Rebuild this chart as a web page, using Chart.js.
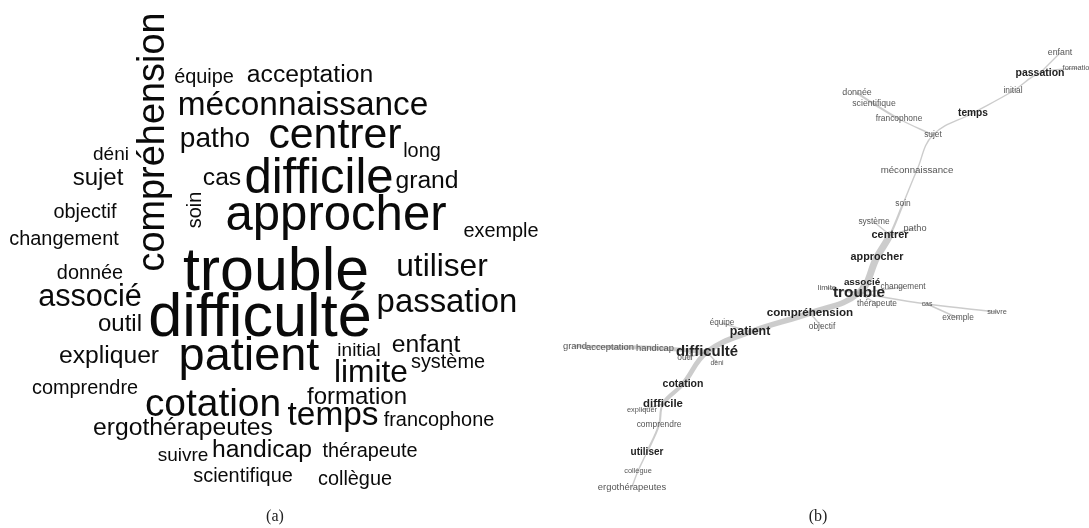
<!DOCTYPE html>
<html lang="fr">
<head>
<meta charset="utf-8">
<script src="https://cdn.jsdelivr.net/npm/chart.js@4.4.1/dist/chart.umd.min.js"></script>
<style>
  html, body { margin: 0; padding: 0; background: #fff; }
</style>
</head>
<body>
<canvas id="graphe" width="1089" height="528"></canvas>
<script>
// (a) nuage de mots : mot, fréquence, position dans le repère du nuage
const motsNuage = [
  "compréhension", "équipe", "acceptation", "méconnaissance", "patho", "centrer", "long",
  "déni", "sujet", "cas", "difficile", "grand", "soin", "objectif", "approcher", "exemple",
  "changement", "trouble", "utiliser", "donnée", "associé", "passation", "outil", "difficulté",
  "expliquer", "patient", "initial", "enfant", "système", "limite", "comprendre", "formation",
  "cotation", "temps", "francophone", "ergothérapeutes", "suivre", "handicap", "thérapeute",
  "scientifique", "collègue"
]
const freqNuage = [
  40, 11, 17, 31, 22, 51, 11,
  10, 16, 17, 67, 17, 11, 11, 67, 11,
  11, 103, 28, 11, 26, 30, 16, 104,
  17, 61, 10, 17, 11, 28, 11, 16,
  42, 31, 11, 17, 10, 17, 11,
  11, 11
]
const xNuage = [
  164, 204, 310, 303, 215, 335, 422,
  111, 98, 222, 319, 427, 201, 85, 336, 501,
  64, 276, 442, 90, 90, 447, 120, 260,
  109, 249, 359, 426, 448, 371, 85, 357,
  213, 333, 439, 183, 183, 262, 370,
  243, 355
]
const yNuage = [
  142, 83, 82, 115, 147, 148, 157,
  160, 185, 185, 193, 188, 210, 218, 230, 237,
  245, 290, 276, 279, 306, 312, 331, 336,
  363, 370, 356, 352, 368, 382, 394, 404,
  416, 425, 426, 435, 461, 457, 457,
  482, 485
]
const motsVerticaux = ["compréhension", "soin"]

// (b) graphe de similitude : noeuds et chemins d'arêtes
const noeuds = [
  "enfant", "passation", "formation", "initial", "temps", "donnée", "scientifique",
  "francophone", "sujet", "méconnaissance", "soin", "système", "patho", "centrer",
  "approcher", "associé", "limite", "trouble", "changement", "thérapeute", "cas", "exemple",
  "suivre", "compréhension", "objectif", "patient", "équipe", "difficulté", "handicap",
  "acceptation", "grand", "outil", "déni", "cotation", "difficile", "expliquer",
  "comprendre", "utiliser", "collègue", "ergothérapeutes"
]
const xNoeuds = [
  1060, 1040, 1078, 1013, 973, 857, 874,
  899, 933, 917, 903, 874, 915, 890,
  877, 862, 827, 859, 903, 877, 927, 958,
  997, 810, 822, 750, 722, 707, 655,
  610, 575, 685, 717, 683, 663, 642,
  659, 647, 638, 632
]
const yNoeuds = [
  53, 73, 68, 91, 113, 93, 104,
  119, 135, 170, 204, 222, 228, 235,
  257, 282, 288, 293, 287, 304, 304, 318,
  312, 313, 327, 332, 323, 352, 348,
  347, 346, 358, 363, 384, 404, 410,
  425, 452, 471, 487
]
const poidsNoeuds = [
  2.7, 4.6, 1.1, 2.2, 4.2, 2.8, 2.6,
  2.2, 2.2, 3.7, 2.2, 2.2, 3.1, 5.0,
  4.9, 3.9, 1.7, 10, 2.0, 2.2, 0.5, 2.2,
  1.1, 5.8, 2.2, 6.7, 2.0, 9.4, 3.3,
  3.3, 3.3, 2.2, 0.5, 4.6, 5.6, 1.1,
  2.2, 4.0, 1.1, 3.3
]
const chemins = [
  ["formation", "passation", "initial", "temps", "sujet", "méconnaissance", "soin", "centrer",
   "approcher", "trouble", "compréhension", "patient", "difficulté", "cotation", "difficile",
   "comprendre", "utiliser", "collègue", "ergothérapeutes"],
  ["enfant", "passation"],
  ["donnée", "scientifique", "francophone", "sujet"],
  ["système", "centrer"],
  ["patho", "centrer"],
  ["limite", "trouble"],
  ["associé", "trouble"],
  ["changement", "trouble"],
  ["trouble", "thérapeute"],
  ["trouble", "cas", "suivre"],
  ["cas", "exemple"],
  ["compréhension", "objectif"],
  ["patient", "équipe"],
  ["difficulté", "handicap", "acceptation", "grand"],
  ["difficulté", "outil"],
  ["difficulté", "déni"],
  ["difficile", "expliquer"]
]
const poidsChemins = [
  [2, 2, 2, 2, 2, 2, 3, 10, 10, 8, 8, 8, 7, 6, 3, 3, 2, 2],
  [2],
  [3, 3, 2],
  [2],
  [2],
  [3],
  [2],
  [2],
  [2],
  [2, 2],
  [2],
  [2],
  [2],
  [6, 6, 4],
  [2],
  [2],
  [2]
]

const legendes = ["(a)", "(b)"]
const xLegendes = [275, 818]

const taillePolice = f => 6 * Math.sqrt(f)
const tailleNoeud = w => 6.4 + w * 0.9
const point = nom => {
  const i = noeuds.indexOf(nom)
  return { x: xNoeuds[i], y: yNoeuds[i] }
}

const datasetNuage = {
  data: motsNuage.map((m, i) => ({ x: xNuage[i], y: yNuage[i] })),
  pointRadius: 0,
  textes: motsNuage.map((m, i) => ({
    txt: m,
    font: `${taillePolice(freqNuage[i]).toFixed(1)}px "Liberation Sans", Arial, sans-serif`,
    color: "#0a0a0a",
    rot: motsVerticaux.includes(m),
    base: "alphabetic"
  }))
}

const datasetsLiens = chemins.map((ch, k) => ({
  data: ch.map(point),
  showLine: true,
  tension: 0.4,
  pointRadius: 0,
  borderColor: "rgba(170,170,170,0.6)",
  borderCapStyle: "round",
  borderJoinStyle: "round",
  segment: { borderWidth: c => poidsChemins[k][c.p0DataIndex] * 0.7 }
}))

const datasetNoeuds = {
  data: noeuds.map(point),
  pointRadius: 0,
  textes: noeuds.map((n, i) => {
    const w = poidsNoeuds[i]
    const gras = w >= 3.85
    return {
      txt: n,
      font: `${gras ? "bold " : ""}${tailleNoeud(w).toFixed(1)}px "Liberation Sans", Arial, sans-serif`,
      color: gras ? "#222" : "#555",
      rot: false,
      base: "middle"
    }
  })
}

const etiquettes = {
  id: "etiquettes",
  afterDatasetsDraw(chart) {
    const ctx = chart.ctx
    chart.data.datasets.forEach((ds, i) => {
      if (!ds.textes) return
      chart.getDatasetMeta(i).data.forEach((pt, j) => {
        const t = ds.textes[j]
        ctx.save()
        ctx.translate(pt.x, pt.y)
        if (t.rot) ctx.rotate(-Math.PI / 2)
        ctx.font = t.font
        ctx.fillStyle = t.color
        ctx.textAlign = "center"
        ctx.textBaseline = t.base
        ctx.fillText(t.txt, 0, 0)
        ctx.restore()
      })
    })
    // sous-titres (a) et (b)
    const { x, y } = chart.scales
    ctx.save()
    ctx.font = '16px "Liberation Serif", "Times New Roman", serif'
    ctx.fillStyle = "#222"
    ctx.textAlign = "center"
    ctx.textBaseline = "middle"
    legendes.forEach((l, i) => ctx.fillText(l, x.getPixelForValue(xLegendes[i]), y.getPixelForValue(517)))
    ctx.restore()
  }
}

new Chart(document.getElementById("graphe"), {
  type: "scatter",
  data: { datasets: [...datasetsLiens, datasetNoeuds, datasetNuage] },
  options: {
    responsive: false,
    animation: false,
    layout: { padding: 0 },
    plugins: { legend: { display: false }, tooltip: { enabled: false } },
    scales: {
      x: { type: "linear", min: 0, max: 1089, display: false },
      y: { type: "linear", min: 0, max: 528, reverse: true, display: false }
    }
  },
  plugins: [etiquettes]
})
</script>
</body>
</html>
